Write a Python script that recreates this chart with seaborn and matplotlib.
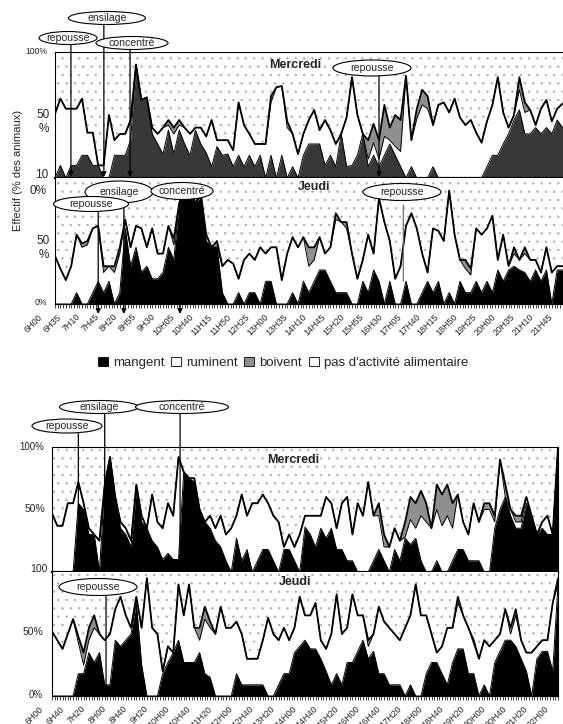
import numpy as np
import matplotlib.pyplot as plt
import seaborn as sns
from matplotlib.patches import Ellipse, Patch
from matplotlib.transforms import ScaledTranslation

sns.set_style('white')
plt.rcParams['font.family'] = ['Liberation Sans', 'DejaVu Sans']
plt.rcParams['hatch.linewidth'] = 0.4

# valeurs en % des animaux, pas de 10 minutes
# graphe du haut : 6H00 -> 21H40 ; graphe du bas : 6H00 -> 22H00
haut_mer_actif = [51, 63, 55, 55, 55, 63, 36, 36, 10, 10,
                  50, 30, 35, 35, 46, 90, 62, 64, 40, 35,
                  40, 46, 40, 46, 40, 35, 40, 40, 33, 46,
                  30, 30, 30, 22, 60, 42, 35, 27, 27, 27,
                  65, 72, 73, 45, 35, 19, 35, 46, 54, 38,
                  46, 38, 27, 35, 48, 80, 50, 35, 30, 43,
                  30, 58, 40, 50, 46, 81, 30, 55, 70, 65,
                  42, 58, 60, 52, 63, 48, 42, 46, 36, 28,
                  45, 58, 80, 52, 40, 50, 80, 60, 54, 42,
                  55, 62, 45, 55, 59]
haut_mer_mange = [0, 10, 0, 10, 10, 18, 18, 10, 10, 0,
                  0, 18, 18, 18, 30, 90, 62, 64, 35, 27,
                  19, 38, 19, 38, 27, 18, 38, 27, 20, 9,
                  25, 18, 19, 9, 18, 9, 18, 9, 18, 0,
                  18, 0, 18, 0, 9, 0, 18, 27, 27, 27,
                  10, 18, 9, 35, 9, 10, 18, 35, 9, 18,
                  9, 18, 27, 18, 9, 0, 9, 0, 0, 0,
                  9, 0, 0, 0, 0, 0, 0, 0, 0, 0,
                  9, 18, 18, 27, 35, 46, 54, 35, 35, 40,
                  35, 40, 35, 46, 40]
haut_mer_boit = [0, 0, 0, 0, 0, 0, 0, 0, 0, 0,
                 0, 0, 0, 0, 0, 0, 0, 0, 0, 0,
                 0, 4, 5, 4, 0, 0, 0, 0, 0, 0,
                 0, 0, 0, 0, 0, 0, 0, 0, 0, 0,
                 5, 0, 0, 5, 0, 0, 0, 0, 0, 0,
                 0, 0, 0, 0, 0, 0, 0, 0, 15, 15,
                 15, 25, 10, 25, 25, 0, 0, 8, 12, 10,
                 0, 0, 0, 0, 0, 0, 0, 0, 0, 0,
                 0, 0, 0, 0, 0, 0, 10, 8, 0, 0,
                 0, 0, 0, 0, 0]

haut_jeu_actif = [38, 28, 19, 30, 55, 48, 50, 60, 62, 30,
                  30, 30, 45, 67, 45, 62, 60, 45, 60, 40,
                  40, 62, 52, 80, 90, 92, 80, 88, 55, 45,
                  50, 30, 35, 32, 20, 35, 40, 35, 45, 40,
                  45, 45, 19, 40, 53, 45, 53, 45, 45, 53,
                  40, 45, 72, 65, 65, 40, 20, 35, 55, 40,
                  84, 65, 50, 20, 30, 62, 72, 60, 40, 25,
                  60, 58, 50, 90, 55, 35, 35, 28, 60, 55,
                  60, 70, 35, 55, 30, 45, 35, 45, 35, 35,
                  25, 45, 25, 30, 30]
haut_jeu_mange = [0, 0, 0, 0, 9, 0, 0, 9, 18, 9,
                  18, 0, 9, 60, 30, 45, 25, 30, 20, 20,
                  25, 45, 35, 80, 90, 92, 80, 85, 50, 45,
                  45, 9, 0, 0, 9, 0, 9, 9, 0, 18,
                  18, 0, 0, 0, 9, 0, 18, 9, 18, 27,
                  27, 18, 9, 9, 9, 0, 0, 18, 9, 27,
                  18, 0, 18, 0, 0, 18, 0, 0, 9, 18,
                  9, 18, 0, 9, 0, 18, 9, 9, 18, 9,
                  18, 9, 27, 18, 27, 30, 27, 25, 18, 27,
                  18, 27, 0, 27, 27]
haut_jeu_boit = [0, 0, 0, 0, 0, 3, 3, 0, 0, 5,
                 0, 5, 5, 0, 0, 0, 0, 0, 0, 0,
                 0, 0, 5, 0, 0, 0, 0, 0, 0, 0,
                 5, 0, 0, 0, 0, 0, 0, 0, 0, 0,
                 0, 0, 0, 0, 0, 0, 0, 15, 10, 0,
                 0, 0, 5, 0, 5, 0, 0, 0, 0, 0,
                 0, 0, 0, 0, 0, 0, 0, 0, 0, 0,
                 0, 0, 0, 0, 0, 0, 7, 5, 0, 0,
                 0, 0, 0, 0, 0, 5, 0, 5, 0, 0,
                 0, 0, 0, 0, 0]

bas_mer_actif = [47, 37, 37, 55, 55, 72, 55, 35, 30, 25,
                 70, 92, 60, 40, 35, 25, 70, 45, 35, 62,
                 40, 35, 55, 45, 92, 80, 75, 75, 50, 40,
                 45, 35, 45, 30, 35, 45, 62, 45, 55, 55,
                 62, 55, 45, 40, 20, 30, 20, 30, 45, 45,
                 45, 45, 60, 55, 35, 55, 60, 30, 55, 45,
                 72, 45, 55, 30, 20, 35, 25, 40, 60, 55,
                 65, 55, 35, 70, 62, 70, 55, 62, 40, 30,
                 55, 40, 55, 55, 45, 90, 70, 50, 45, 45,
                 60, 40, 30, 40, 45, 30, 100]
bas_mer_mange = [0, 0, 0, 0, 0, 55, 50, 30, 30, 0,
                 70, 92, 60, 35, 30, 20, 65, 40, 35, 25,
                 20, 10, 15, 10, 10, 80, 75, 72, 50, 40,
                 35, 25, 20, 9, 0, 27, 9, 18, 0, 9,
                 18, 18, 9, 0, 18, 18, 9, 0, 36, 30,
                 20, 35, 27, 35, 18, 18, 9, 9, 0, 0,
                 0, 9, 18, 9, 0, 18, 9, 27, 22, 27,
                 9, 0, 0, 9, 0, 0, 9, 18, 18, 9,
                 9, 9, 0, 0, 35, 50, 60, 45, 35, 35,
                 55, 45, 30, 35, 30, 30, 100]
bas_mer_boit = [0, 0, 0, 0, 0, 0, 0, 0, 0, 0,
                0, 0, 0, 0, 0, 0, 0, 0, 0, 0,
                0, 0, 0, 0, 0, 0, 0, 0, 0, 0,
                0, 0, 0, 0, 0, 0, 0, 0, 0, 0,
                0, 0, 0, 0, 0, 0, 0, 0, 0, 0,
                0, 0, 0, 0, 0, 0, 0, 0, 0, 0,
                0, 0, 10, 10, 0, 0, 0, 12, 18, 20,
                20, 15, 0, 20, 25, 25, 20, 0, 0, 0,
                0, 0, 5, 5, 5, 0, 10, 0, 5, 5,
                0, 0, 0, 0, 0, 0, 0]

bas_jeu_actif = [52, 45, 38, 50, 62, 48, 35, 55, 65, 50,
                 45, 50, 70, 80, 65, 55, 80, 55, 95, 55,
                 50, 20, 40, 35, 90, 65, 90, 55, 55, 72,
                 60, 50, 72, 55, 55, 60, 50, 30, 30, 30,
                 45, 63, 50, 45, 55, 45, 55, 80, 65, 65,
                 75, 45, 38, 50, 82, 50, 55, 82, 65, 65,
                 45, 50, 72, 60, 55, 50, 45, 55, 65, 90,
                 65, 65, 50, 35, 40, 55, 55, 80, 65, 55,
                 45, 30, 45, 40, 45, 50, 70, 55, 70, 45,
                 35, 35, 40, 45, 45, 75, 95]
bas_jeu_mange = [0, 0, 0, 0, 0, 18, 18, 35, 27, 35,
                 9, 9, 45, 40, 45, 50, 75, 25, 0, 0,
                 0, 18, 27, 35, 45, 27, 27, 27, 35, 18,
                 15, 0, 0, 0, 0, 18, 9, 9, 9, 9,
                 9, 0, 0, 9, 18, 18, 35, 40, 45, 38,
                 38, 30, 20, 9, 18, 9, 27, 27, 36, 45,
                 30, 36, 18, 18, 9, 9, 9, 0, 9, 0,
                 0, 18, 27, 27, 18, 9, 27, 38, 38, 18,
                 18, 0, 9, 0, 27, 36, 45, 45, 40, 30,
                 20, 0, 30, 36, 36, 20, 90]
bas_jeu_boit = [0, 0, 0, 0, 0, 5, 10, 10, 10, 0,
                0, 0, 0, 0, 0, 0, 0, 0, 0, 0,
                0, 0, 0, 0, 0, 0, 0, 0, 10, 10,
                5, 0, 0, 0, 0, 0, 0, 0, 0, 0,
                0, 0, 0, 0, 0, 0, 0, 0, 0, 0,
                0, 0, 0, 0, 0, 0, 0, 0, 0, 0,
                5, 0, 0, 0, 0, 0, 0, 0, 0, 0,
                0, 0, 0, 0, 0, 0, 0, 5, 0, 0,
                3, 0, 0, 0, 0, 0, 0, 5, 5, 0,
                0, 0, 0, 0, 0, 0, 5]

heures_haut = ["6H00", "6H35", "7H10", "7H45", "8H20", "8H55", "9H30", "10H05",
               "10H40", "11H15", "11H50", "12H25", "13H00", "13H35", "14H10",
               "14H45", "15H20", "15H55", "16H30", "17H05", "17H40", "18H15",
               "18H50", "19H25", "20H00", "20H35", "21H10", "21H45"]
heures_bas = ["6H00", "6H40", "7H20", "8H00", "8H40", "9H20", "10H00", "10H40",
              "11H20", "12H00", "12H40", "13H20", "14H00", "14H40", "15H20",
              "16H00", "16H40", "17H20", "18H00", "18H40", "19H20", "20H00",
              "20H40", "21H20", "22H00"]
activites = ["mangent", "ruminent", "boivent", "pas d'activité alimentaire"]

W, H = 563, 724
fig = plt.figure(figsize=(W / 100, H / 100), dpi=100)


def axes_px(left, top, right, bottom):
    return fig.add_axes([left / W, 1 - bottom / H, (right - left) / W, (bottom - top) / H])


def panneau(ax, x, actif, mange, boit, coul_mange):
    actif = np.asarray(actif, float)
    mange = np.asarray(mange, float)
    boit = np.asarray(boit, float)
    rumine = np.clip(actif - mange - boit, 0, None)
    bas_boit = mange + rumine
    haut = bas_boit + boit
    ax.fill_between(x, haut, 100, facecolor='white', edgecolor='#a8a8a8',
                    hatch='..', linewidth=0)
    ax.fill_between(x, bas_boit, haut, color='#8f8f8f', lw=0)
    ax.fill_between(x, mange, bas_boit, color='white', lw=0)
    ax.fill_between(x, 0, mange, color=coul_mange, lw=0)
    sns.lineplot(x=x, y=bas_boit, ax=ax, color='black', linewidth=0.7)
    sns.lineplot(x=x, y=mange, ax=ax, color='black', linewidth=0.7)
    sns.lineplot(x=x, y=haut, ax=ax, color='black', linewidth=1.3)
    ax.set_xlim(0, 192)
    ax.set_ylim(0, 100)
    ax.set_yticks([])
    ax.set_xlabel('')
    ax.set_ylabel('')
    for sp in ax.spines.values():
        sp.set_color('black')
        sp.set_linewidth(0.8)


def axe_temps(ax, pas, labels, dx):
    ax.set_xticks(np.arange(len(labels)) * pas)
    ax.set_xticklabels(labels, rotation=45, ha='right', va='top', fontsize=6.5)
    ax.set_xticks(np.arange(0, 193, 1), minor=True)
    ax.tick_params(axis='x', which='both', direction='out', length=3, width=0.6,
                   bottom=True, pad=3)
    for lab in ax.get_xticklabels():
        lab.set_transform(lab.get_transform() + ScaledTranslation(dx / 100, 0, fig.dpi_scale_trans))


def texte(x, y, s, **kw):
    fig.text(x / W, 1 - y / H, s, **kw)


def bulle(cx, cy, w, h, s, fs=7.6):
    fig.add_artist(Ellipse((cx / W, 1 - cy / H), w / W, h / H, transform=fig.transFigure,
                           facecolor='white', edgecolor='black', lw=0.8, zorder=10))
    texte(cx, cy, s, ha='center', va='center', fontsize=fs, zorder=11)


def trait(ax, s, y0, y1, fleche=True, couleur='black'):
    ann = ax.annotate('', xy=(s, H - y1), xycoords=('data', 'figure pixels'),
                      xytext=(s, H - y0), textcoords=('data', 'figure pixels'),
                      arrowprops=dict(arrowstyle='-|>' if fleche else '-', color=couleur,
                                      lw=0.9, mutation_scale=7, shrinkA=0, shrinkB=0),
                      annotation_clip=False, zorder=6)
    ann.arrow_patch.set_clip_on(False)


x_haut = np.arange(0, 190, 2)
x_bas = np.arange(0, 194, 2)

# ---- graphe du haut
ax1 = axes_px(55, 52, 55 + 2.7 * 192, 178)
ax2 = axes_px(55, 178, 55 + 2.7 * 192, 304)
panneau(ax1, x_haut, haut_mer_actif, haut_mer_mange, haut_mer_boit, '#383838')
panneau(ax2, x_haut, haut_jeu_actif, haut_jeu_mange, haut_jeu_boit, 'black')
ax1.set_xticks([])
ax1.spines['bottom'].set_linewidth(1.6)
ax2.spines['top'].set_visible(False)
axe_temps(ax2, 7, heures_haut, -11)
ax1.text(0.463, 0.9, 'Mercredi', transform=ax1.transAxes, ha='center', va='center',
         fontsize=9, fontweight='bold')
ax2.text(0.5, 0.93, 'Jeudi', transform=ax2.transAxes, ha='center', va='center',
         fontsize=9, fontweight='bold')

texte(18, 170, 'Effectif (% des animaux)', rotation=90, ha='center', va='center', fontsize=8)
texte(47, 52, '100%', ha='right', va='center', fontsize=6.2)
texte(50, 115, '50', ha='right', va='center', fontsize=8.5)
texte(44, 129, '%', ha='center', va='center', fontsize=8.5)
texte(48, 175, '10', ha='right', va='center', fontsize=8.5)
texte(47, 191, '0%', ha='right', va='center', fontsize=8.5)
texte(50, 241, '50', ha='right', va='center', fontsize=8.5)
texte(44, 255, '%', ha='center', va='center', fontsize=8.5)
texte(47, 303, '0%', ha='right', va='center', fontsize=6.2)

trait(ax1, 5.9, 43, 177)
trait(ax1, 18.1, 24, 177)
trait(ax1, 27.8, 49, 177)
trait(ax1, 120.0, 75, 177)
bulle(68, 38, 58, 13, 'repousse')
bulle(107, 18, 77, 13, 'ensilage')
bulle(132, 43, 72, 13, 'concentré')
bulle(372, 68, 78, 16, 'repousse')

trait(ax2, 16.0, 211, 314)
trait(ax2, 25.5, 202, 314)
trait(ax2, 46.3, 199, 314)
trait(ax2, 129.0, 205, 281, fleche=False, couleur='#707070')
bulle(119, 192, 68, 22, 'ensilage')
bulle(182, 191, 62, 17, 'concentré')
bulle(91, 204, 75, 15, 'repousse')
bulle(402, 192, 78, 17, 'repousse')

# ---- légende
poignees = [Patch(facecolor='black', edgecolor='black', lw=0.6),
            Patch(facecolor='white', edgecolor='black', lw=0.6),
            Patch(facecolor='#8f8f8f', edgecolor='black', lw=0.6),
            Patch(facecolor='white', edgecolor='black', lw=0.6)]
fig.legend(poignees, activites, loc='center', bbox_to_anchor=(283 / W, 1 - 363 / H),
           ncol=4, frameon=False, fontsize=9.5, handlelength=0.75, handleheight=0.75,
           handletextpad=0.4, columnspacing=0.5)

# ---- graphe du bas
ax3 = axes_px(52, 447, 558, 572)
ax4 = axes_px(52, 572, 558, 696)
panneau(ax3, x_bas, bas_mer_actif, bas_mer_mange, bas_mer_boit, 'black')
panneau(ax4, x_bas, bas_jeu_actif, bas_jeu_mange, bas_jeu_boit, 'black')
ax3.set_xticks([])
ax3.spines['bottom'].set_linewidth(1.6)
ax4.spines['top'].set_visible(False)
axe_temps(ax4, 8, heures_bas, -7)
ax3.text(0.476, 0.896, 'Mercredi', transform=ax3.transAxes, ha='center', va='center',
         fontsize=9, fontweight='bold')
ax4.text(0.48, 0.92, 'Jeudi', transform=ax4.transAxes, ha='center', va='center',
         fontsize=9, fontweight='bold')

texte(44, 447, '100%', ha='right', va='center', fontsize=7)
texte(45, 509, '50%', ha='right', va='center', fontsize=7.5)
texte(48, 569, '100', ha='right', va='center', fontsize=7.5)
texte(43, 632, '50%', ha='right', va='center', fontsize=7.5)
texte(43, 695, '0%', ha='right', va='center', fontsize=7)

trait(ax3, 10.0, 433, 572, fleche=False)
trait(ax3, 20.0, 413, 578, fleche=False)
trait(ax3, 48.6, 413, 560, fleche=False)
trait(ax4, 20.5, 595, 688, fleche=False)
bulle(67, 426, 70, 14, 'repousse')
bulle(99, 407, 79, 13, 'ensilage')
bulle(182, 407, 93, 13, 'concentré')
bulle(98, 587, 78, 17, 'repousse')

fig.savefig('out.png', dpi=100)
